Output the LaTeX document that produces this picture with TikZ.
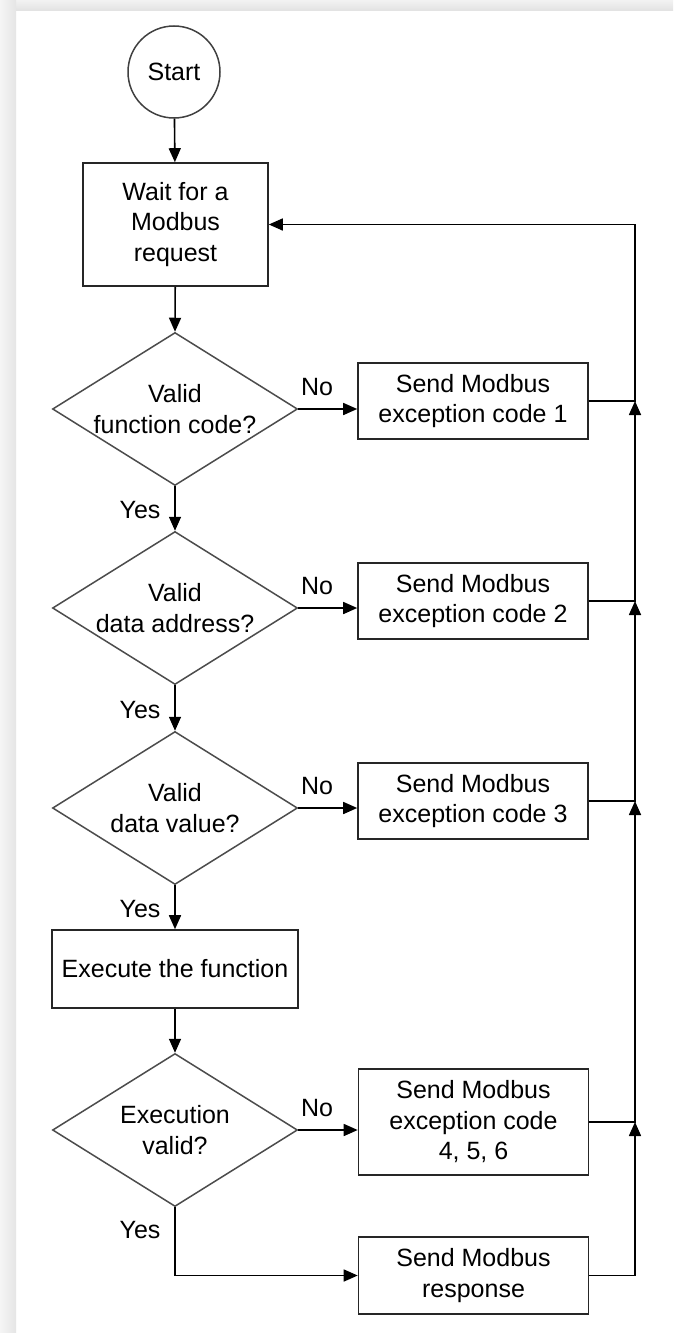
\documentclass[tikz,border=0pt]{standalone}
\usepackage{fontspec}
\setmainfont{Liberation Sans}
\usetikzlibrary{shapes.geometric,arrows.meta}
\begin{document}
\begin{tikzpicture}[x=1pt,y=-1pt,
  every node/.style={font=\fontsize{25}{30.5}\selectfont},
  box/.style={draw=black!85,line width=1.6pt,rectangle,inner sep=0pt,align=center},
  dec/.style={draw=black!70,line width=1.5pt,diamond,inner sep=0pt,
              minimum width=245pt,minimum height=153pt},
  dtxt/.style={align=center,inner sep=0pt},
  lbl/.style={inner sep=0pt},
  link/.style={draw=black,line width=1.6pt},
  arr/.style={link,-{Triangle[length=14pt,width=12pt]}}]

% page and its soft grey edges
\useasboundingbox (0,0) rectangle (673,1333);
\fill[white] (0,0) rectangle (673,1333);
\shade[top color=gray!10,bottom color=gray!22] (0,0) rectangle (673,10);
\shade[left color=gray!8,right color=gray!20] (0,0) rectangle (16,1333);

% nodes
\node[draw=black!75,line width=1.5pt,circle,minimum size=92pt,inner sep=0pt] (start) at (174,72) {Start};
\node[box,minimum width=185pt,minimum height=123pt] (wait) at (175.5,224.5) {Wait for a\\Modbus\\request};

\node[dec] (d1) at (175,409) {};
\node[dtxt] (d1t) at (d1) {Valid\\function code?};
\node[dec] (d2) at (175,608) {};
\node[dtxt] (d2t) at (d2) {Valid\\data address?};
\node[dec] (d3) at (175,808) {};
\node[dtxt] (d3t) at (d3) {Valid\\data value?};
\node[box,minimum width=246pt,minimum height=78pt] (exec) at (175,969) {Execute the function};
\node[dec] (d4) at (175,1130) {};
\node[dtxt] (d4t) at (d4) {Execution\\valid?};

\node[box,minimum width=230pt,minimum height=76pt] (b1) at (473,401) {Send Modbus\\exception code 1};
\node[box,minimum width=230pt,minimum height=76pt] (b2) at (473,601) {Send Modbus\\exception code 2};
\node[box,minimum width=230pt,minimum height=76pt] (b3) at (473,801) {Send Modbus\\exception code 3};
\node[box,minimum width=230pt,minimum height=106pt] (b4) at (473.5,1122) {Send Modbus\\exception code\\4, 5, 6};
\node[box,minimum width=230pt,minimum height=77pt] (b5) at (473.5,1275.5) {Send Modbus\\response};

% branch labels
\node[lbl] (no1) at (317,387) {No};
\node[lbl] (no2) at (317,586) {No};
\node[lbl] (no3) at (317,786) {No};
\node[lbl] (no4) at (317,1108) {No};
\node[lbl] (yes1) at (140,510) {Yes};
\node[lbl] (yes2) at (140,710) {Yes};
\node[lbl] (yes3) at (140,909) {Yes};
\node[lbl] (yes4) at (140,1230) {Yes};

% main flow
\draw[arr] (start) -- (wait);
\draw[arr] (wait) -- (d1.north);
\draw[arr] (d1.south) -- (d2.north);
\draw[arr] (d2.south) -- (d3.north);
\draw[arr] (d3.south) -- (exec);
\draw[arr] (exec) -- (d4.north);
\draw[arr] (d4.south) |- (b5.west);

% "No" branches
\draw[arr] (d1.east) -- (d1.east -| b1.west);
\draw[arr] (d2.east) -- (d2.east -| b2.west);
\draw[arr] (d3.east) -- (d3.east -| b3.west);
\draw[arr] (d4.east) -- (d4.east -| b4.west);

% return rail back to the wait state
\coordinate (rail) at (635,0);
\coordinate (j1) at (rail |- b1.east);
\coordinate (j2) at (rail |- b2.east);
\coordinate (j3) at (rail |- b3.east);
\coordinate (j4) at (rail |- b4.east);
\draw[arr] (b5.east) -| (j4);
\draw[arr] (b4.east) -- (j4) -- (j3);
\draw[arr] (b3.east) -- (j3) -- (j2);
\draw[arr] (b2.east) -- (j2) -- (j1);
\draw[arr] (b1.east) -- (j1) |- (wait.east);
\end{tikzpicture}
\end{document}
